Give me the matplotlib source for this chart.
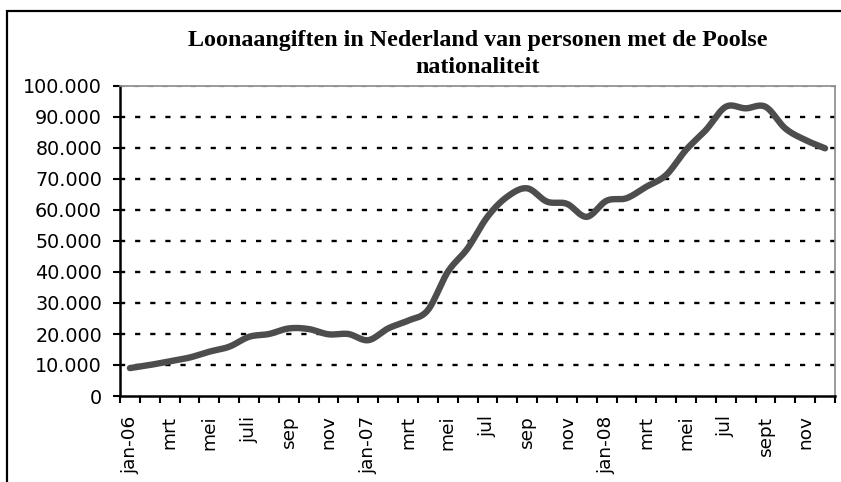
import numpy as np
import matplotlib
matplotlib.use("Agg")
import matplotlib.pyplot as plt
from matplotlib.patches import Rectangle

# Data (monthly, jan-2006 .. dec-2008)
values = [9000, 10000, 11200, 12400, 14300, 15900, 19100, 20000, 21800, 21600, 19900, 20000,
          18000, 21800, 24300, 27700, 40000, 47600, 57800, 64300, 67000, 62700, 62000, 57800,
          63000, 63800, 67500, 71300, 79400, 85800, 93300, 92800, 93300, 86300, 82600, 79900]
tick_labels = ["jan-06", "mrt", "mei", "juli", "sep", "nov",
               "jan-07", "mrt", "mei", "jul", "sep", "nov",
               "jan-08", "mrt", "mei", "jul", "sept", "nov"]
yticks = [0, 10000, 20000, 30000, 40000, 50000, 60000, 70000, 80000, 90000, 100000]
title = "Loonaangiften in Nederland van personen met de Poolse\nnationaliteit"

W, H = 841, 482
fig = plt.figure(figsize=(W / 100, H / 100), dpi=100)
ax = fig.add_axes([120 / W, 1 - 396 / H, (835 - 120) / W, (396 - 86) / H])

n = len(values)
x = np.arange(n) + 0.5
y = np.array(values, dtype=float)

# Catmull-Rom smoothing (like a smoothed spreadsheet line)
def catmull(xp, yp, steps=20):
    px = np.concatenate([[2 * xp[0] - xp[1]], xp, [2 * xp[-1] - xp[-2]]])
    py = np.concatenate([[2 * yp[0] - yp[1]], yp, [2 * yp[-1] - yp[-2]]])
    xs, ys = [], []
    for i in range(1, len(px) - 2):
        t = np.linspace(0, 1, steps, endpoint=False)
        for arr, out in ((px, xs), (py, ys)):
            p0, p1, p2, p3 = arr[i - 1], arr[i], arr[i + 1], arr[i + 2]
            out.extend(0.5 * ((2 * p1) + (-p0 + p2) * t + (2 * p0 - 5 * p1 + 4 * p2 - p3) * t ** 2
                              + (-p0 + 3 * p1 - 3 * p2 + p3) * t ** 3))
    xs.append(xp[-1]); ys.append(yp[-1])
    return np.array(xs), np.array(ys)

sx, sy = catmull(x, y)

# gridlines
for v in yticks[1:-1]:
    ax.axhline(v, color="black", lw=1.7, dashes=(2.2, 4.2), zorder=1)
ax.axhline(100000, color="#8a8a8a", lw=1.6, dashes=(2.2, 4.2), zorder=1)

ax.plot(sx, sy, color="#4d4d4d", lw=4.6, solid_capstyle="round", solid_joinstyle="round", zorder=3)

ax.set_xlim(0, n)
ax.set_ylim(0, 100000)
ax.set_yticks(yticks)
ax.set_yticklabels([f"{v:,}".replace(",", ".") for v in yticks])
ax.set_xticks(np.arange(0, n + 1), minor=False)
ax.set_xticklabels([])
ax.set_xticks(np.arange(0, n, 2) + 0.5, minor=True)
ax.set_xticklabels(tick_labels, minor=True, rotation=90)
ax.tick_params(axis="x", which="minor", length=0, pad=14, labelsize=13.3)
ax.tick_params(axis="x", which="major", direction="out", length=5, width=1.5)
ax.tick_params(axis="y", direction="out", length=5, width=1.5, pad=8, labelsize=13.8)

for s in ("left", "bottom"):
    ax.spines[s].set_linewidth(1.8)
    ax.spines[s].set_color("black")
for s in ("top", "right"):
    ax.spines[s].set_linewidth(1.2)
    ax.spines[s].set_color("#8a8a8a")

fig.text((120 + 835) / 2 / W, 1 - 54 / H, title, ha="center", va="center",
         fontfamily="Liberation Serif", fontweight="bold", fontsize=17.3, linespacing=1.42)

# outer chart frame
fig.patches.append(Rectangle((7 / W, -0.05), 1.0, 1 - 11 / H + 0.05, transform=fig.transFigure,
                             fill=False, edgecolor="black", lw=1.6))

fig.savefig("out.png", dpi=100)
